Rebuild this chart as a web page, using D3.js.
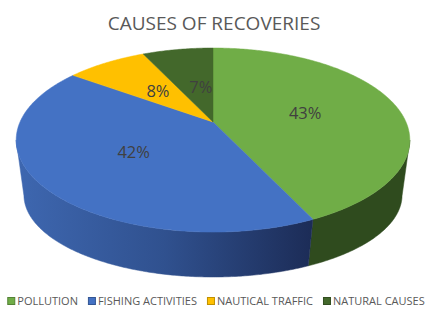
<!DOCTYPE html>
<html>
<head>
<meta charset="utf-8">
<script src="https://cdn.jsdelivr.net/npm/d3@7"></script>
<style>
body { margin: 0; background: #fff; }
</style>
</head>
<body>
<script>
var w = 430, h = 315;

var categories = ["POLLUTION", "FISHING ACTIVITIES", "NAUTICAL TRAFFIC", "NATURAL CAUSES"];
var values = [43, 42, 8, 7];
var colors = ["#70ad47", "#4472c4", "#ffc000", "#43682b"];
var labels = ["43%", "42%", "8%", "7%"];

// projected disc (top face and bottom face), perspective tilted
var cx = 213;
var topF = { cy: 122, a: 193, b: 88.5, p: 0.196 };
var botF = { cy: 179.6, a: 185.7, b: 79.1, p: 0.188 };

function proj(f, t, k) {
	if (k == null) k = 1;
	var d = 1 + f.p * k * Math.cos(t);
	return [cx + f.a * k * Math.sin(t) / d, f.cy - f.b * k * Math.cos(t) / d];
}

function arcPts(f, a0, a1) {
	var n = Math.max(2, Math.ceil(Math.abs(a1 - a0) / 0.01));
	return d3.range(n + 1).map(function(i) { return proj(f, a0 + (a1 - a0) * i / n); });
}

var color = d3.scaleOrdinal().domain(categories).range(colors);
var pie = d3.pie().sort(null).value(function(d, i) { return values[i]; });
var arcs = pie(categories);

var svg = d3.select("body")
		.append("svg")
		.attr("width", w)
		.attr("height", h);

var defs = svg.append("defs");
var grad = defs.append("linearGradient")
		.attr("id", "blueSide")
		.attr("gradientUnits", "userSpaceOnUse")
		.attr("x1", 16).attr("x2", 312).attr("y1", 0).attr("y2", 0);
grad.append("stop").attr("offset", 0).attr("stop-color", "#3e67b0");
grad.append("stop").attr("offset", 0.5).attr("stop-color", "#30518f");
grad.append("stop").attr("offset", 1).attr("stop-color", "#1c2c57");

var sideColor = { "POLLUTION": "#2f4b1e", "FISHING ACTIVITIES": "url(#blueSide)",
	"NAUTICAL TRAFFIC": "#b08500", "NATURAL CAUSES": "#2c451c" };

var line = d3.line();

// visible front wall range
var tR = Math.acos(-topF.p), tL = 2 * Math.PI - tR;

// side walls
arcs.forEach(function(d) {
	var a0 = Math.max(d.startAngle, tR), a1 = Math.min(d.endAngle, tL);
	if (a1 <= a0) return;
	var pts = arcPts(topF, a0, a1).concat(arcPts(botF, a1, a0));
	svg.append("path")
		.attr("d", line(pts) + "Z")
		.attr("fill", sideColor[d.data])
		.attr("stroke", sideColor[d.data])
		.attr("stroke-width", 0.5);
});

// top face
arcs.forEach(function(d) {
	var pts = [[cx, topF.cy]].concat(arcPts(topF, d.startAngle, d.endAngle));
	svg.append("path")
		.attr("d", line(pts) + "Z")
		.attr("fill", color(d.data))
		.attr("stroke", color(d.data))
		.attr("stroke-width", 0.5);
});

// data labels
var labelK = [0.5, 0.5, 0.48, 0.44];
arcs.forEach(function(d, i) {
	var m = (d.startAngle + d.endAngle) / 2;
	var pt = proj(topF, m, labelK[i]);
	svg.append("text")
		.attr("x", pt[0] + (i == 3 ? 5 : 0))
		.attr("y", pt[1] + 6)
		.attr("text-anchor", "middle")
		.attr("font-family", "Open Sans")
		.attr("font-size", 16.5)
		.attr("fill", "#404040")
		.text(labels[i]);
});

// title
svg.append("text")
	.attr("x", 214)
	.attr("y", 30)
	.attr("text-anchor", "middle")
	.attr("font-family", "Open Sans")
	.attr("font-size", 19)
	.attr("fill", "#595959")
	.text("CAUSES OF RECOVERIES");

// legend
var lg = svg.append("g");
var xpos = 0;
categories.forEach(function(c, i) {
	lg.append("rect")
		.attr("x", xpos + 0.5)
		.attr("y", 297.5)
		.attr("width", 7)
		.attr("height", 7)
		.attr("fill", color(c))
		.attr("stroke", d3.color(color(c)).darker(0.8))
		.attr("stroke-width", 1);
	var t = lg.append("text")
		.attr("x", xpos + 10)
		.attr("y", 305)
		.attr("font-family", "Open Sans")
		.attr("font-size", 11)
		.attr("fill", "#595959")
		.text(c);
	xpos += 10 + t.node().getComputedTextLength() + 10;
});
xpos -= 10;
lg.attr("transform", "translate(" + (216 - xpos / 2) + ",0)");
</script>
</body>
</html>
